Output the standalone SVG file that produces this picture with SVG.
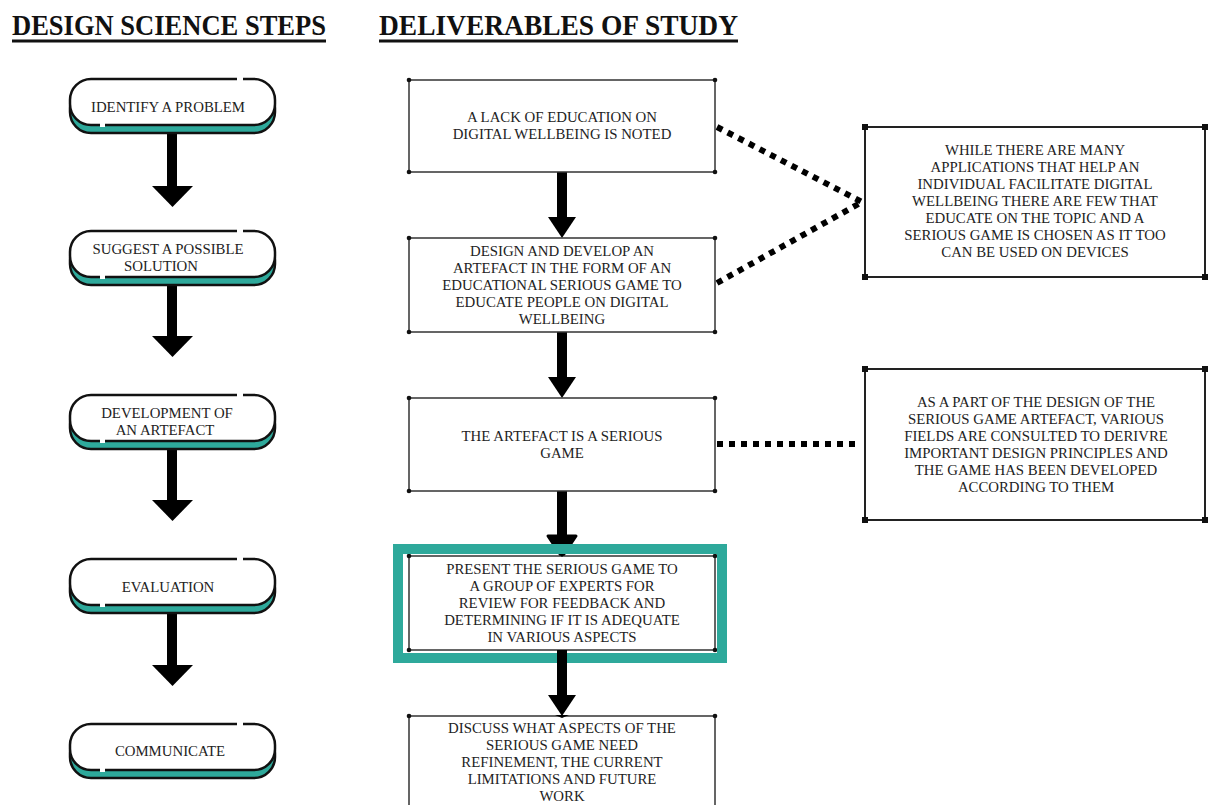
<svg xmlns="http://www.w3.org/2000/svg" width="1208" height="805" viewBox="0 0 1208 805">
  <defs>
    <style>
      .title { font-family: "Liberation Serif", "DejaVu Serif", serif; font-weight: bold; font-size: 29px; fill: #111; }
      .uline { stroke: #111; stroke-width: 3; }
      .lbl { font-family: "Liberation Serif", "DejaVu Serif", serif; font-size: 14.8px; fill: #222; text-anchor: middle; }
      .pill-back { fill: #2ea99b; stroke: #111; stroke-width: 2.5; }
      .pill-front { fill: #fff; stroke: #111; stroke-width: 2.5; }
      .gap { fill: #fff; }
      .box { fill: #fff; stroke: #333; stroke-width: 1.5; }
      .sidebox { fill: #fff; stroke: #222; stroke-width: 2; }
      .dot { fill: #111; }
      .shaft { stroke: #000; stroke-width: 10; }
      .head { fill: #000; }
      .dotted { stroke: #000; stroke-width: 6; stroke-dasharray: 6 6; fill: none; }
      .hl { fill: none; stroke: #2ea99b; stroke-width: 10; }
    </style>
    <symbol id="pill" overflow="visible">
      <rect class="pill-back" x="70" y="8" width="205" height="46" rx="21"/>
      <rect class="pill-front" x="70" y="0" width="205" height="46" rx="21"/>
      <rect class="gap" x="237" y="-3" width="6" height="5"/>
      <rect class="gap" x="100" y="44" width="5" height="4"/>
    </symbol>
  </defs>

  <!-- column headings -->
  <g id="heading-steps">
    <text class="title" x="12" y="35" textLength="314" lengthAdjust="spacingAndGlyphs">DESIGN SCIENCE STEPS</text>
    <line class="uline" x1="12" y1="41" x2="326" y2="41"/>
  </g>
  <g id="heading-deliverables">
    <text class="title" x="379" y="35" textLength="359" lengthAdjust="spacingAndGlyphs">DELIVERABLES OF STUDY</text>
    <line class="uline" x1="379" y1="41" x2="738" y2="41"/>
  </g>

  <!-- connectors -->
  <g id="connectors">
    <!-- step arrows -->
    <line class="shaft" x1="172" y1="133" x2="172" y2="188"/>
    <polygon class="head" points="152,186 193,186 172.5,207"/>
    <line class="shaft" x1="172" y1="285" x2="172" y2="338"/>
    <polygon class="head" points="152,336 193,336 172.5,357"/>
    <line class="shaft" x1="172" y1="449" x2="172" y2="502"/>
    <polygon class="head" points="152,500 193,500 172.5,521"/>
    <line class="shaft" x1="172" y1="613" x2="172" y2="667"/>
    <polygon class="head" points="152,665 193,665 172.5,686"/>

    <!-- deliverable arrows -->
    <line class="shaft" x1="562" y1="172" x2="562" y2="219"/>
    <polygon class="head" points="548,217 576,217 562,238"/>
    <line class="shaft" x1="562" y1="332" x2="562" y2="379"/>
    <polygon class="head" points="548,377 576,377 562,398"/>
    <line class="shaft" x1="562" y1="491" x2="562" y2="537"/>
    <polygon class="head" points="548,536 576,536 562,557" stroke="#000" stroke-width="3" stroke-linejoin="round"/>

    <!-- dotted links to side notes -->
    <line class="dotted" x1="717" y1="127" x2="862" y2="202"/>
    <line class="dotted" x1="717" y1="283" x2="862" y2="202"/>
    <line class="dotted" x1="717" y1="444" x2="860" y2="444"/>
  </g>

  <!-- design science steps -->
  <g id="step-identify">
    <use href="#pill" y="79"/>
    <text class="lbl" x="168" y="112">IDENTIFY A PROBLEM</text>
  </g>
  <g id="step-suggest">
    <use href="#pill" y="231"/>
    <text class="lbl" x="168" y="254">SUGGEST A POSSIBLE</text>
    <text class="lbl" x="161" y="271">SOLUTION</text>
  </g>
  <g id="step-develop">
    <use href="#pill" y="395"/>
    <text class="lbl" x="167" y="418">DEVELOPMENT OF</text>
    <text class="lbl" x="165" y="435">AN ARTEFACT</text>
  </g>
  <g id="step-evaluate">
    <use href="#pill" y="559"/>
    <text class="lbl" x="168" y="592">EVALUATION</text>
  </g>
  <g id="step-communicate">
    <use href="#pill" y="724"/>
    <text class="lbl" x="170" y="756">COMMUNICATE</text>
  </g>

  <!-- deliverables -->
  <g id="deliv-problem">
    <rect class="box" x="409" y="80" width="306" height="92"/>
    <circle class="dot" cx="409" cy="80" r="2.3"/><circle class="dot" cx="715" cy="80" r="2.3"/>
    <circle class="dot" cx="409" cy="172" r="2.3"/><circle class="dot" cx="715" cy="172" r="2.3"/>
    <text class="lbl" x="562" y="122">A LACK OF EDUCATION ON</text>
    <text class="lbl" x="562" y="139">DIGITAL WELLBEING IS NOTED</text>
  </g>
  <g id="deliv-design">
    <rect class="box" x="409" y="238" width="306" height="94"/>
    <circle class="dot" cx="409" cy="238" r="2.3"/><circle class="dot" cx="715" cy="238" r="2.3"/>
    <circle class="dot" cx="409" cy="332" r="2.3"/><circle class="dot" cx="715" cy="332" r="2.3"/>
    <text class="lbl" x="562" y="256">DESIGN AND DEVELOP AN</text>
    <text class="lbl" x="562" y="273">ARTEFACT IN THE FORM OF AN</text>
    <text class="lbl" x="562" y="290">EDUCATIONAL SERIOUS GAME TO</text>
    <text class="lbl" x="562" y="307">EDUCATE PEOPLE ON DIGITAL</text>
    <text class="lbl" x="562" y="324">WELLBEING</text>
  </g>
  <g id="deliv-artefact">
    <rect class="box" x="409" y="398" width="306" height="93"/>
    <circle class="dot" cx="409" cy="398" r="2.3"/><circle class="dot" cx="715" cy="398" r="2.3"/>
    <circle class="dot" cx="409" cy="491" r="2.3"/><circle class="dot" cx="715" cy="491" r="2.3"/>
    <text class="lbl" x="562" y="441">THE ARTEFACT IS A SERIOUS</text>
    <text class="lbl" x="562" y="458">GAME</text>
  </g>
  <g id="deliv-present">
    <rect class="box" x="409" y="556" width="306" height="94"/>
    <circle class="dot" cx="409" cy="556" r="2.3"/><circle class="dot" cx="715" cy="556" r="2.3"/>
    <circle class="dot" cx="409" cy="650" r="2.3"/><circle class="dot" cx="715" cy="650" r="2.3"/>
    <polygon class="head" points="557,552 567,552 562,557"/>
    <rect class="hl" x="398" y="549" width="324" height="109"/>
    <text class="lbl" x="562" y="574">PRESENT THE SERIOUS GAME TO</text>
    <text class="lbl" x="562" y="591">A GROUP OF EXPERTS FOR</text>
    <text class="lbl" x="562" y="608">REVIEW FOR FEEDBACK AND</text>
    <text class="lbl" x="562" y="625">DETERMINING IF IT IS ADEQUATE</text>
    <text class="lbl" x="562" y="642">IN VARIOUS ASPECTS</text>
  </g>
  <g id="link-present-discuss">
    <line class="shaft" x1="562" y1="650" x2="562" y2="697"/>
    <polygon class="head" points="548,695 576,695 562,716"/>
  </g>
  <g id="deliv-discuss">
    <rect class="box" x="409" y="716" width="306" height="100"/>
    <circle class="dot" cx="409" cy="716" r="2.3"/><circle class="dot" cx="715" cy="716" r="2.3"/>
    <polygon class="head" points="555,715 569,715 562,718"/>
    <text class="lbl" x="562" y="733">DISCUSS WHAT ASPECTS OF THE</text>
    <text class="lbl" x="562" y="750">SERIOUS GAME NEED</text>
    <text class="lbl" x="562" y="767">REFINEMENT, THE CURRENT</text>
    <text class="lbl" x="562" y="784">LIMITATIONS AND FUTURE</text>
    <text class="lbl" x="562" y="801">WORK</text>
  </g>

  <!-- side notes -->
  <g id="note-applications">
    <rect class="sidebox" x="865" y="127" width="340" height="150"/>
    <rect class="dot" x="862" y="124" width="6" height="6"/><rect class="dot" x="1202" y="124" width="6" height="6"/>
    <rect class="dot" x="862" y="274" width="6" height="6"/><rect class="dot" x="1202" y="274" width="6" height="6"/>
    <text class="lbl" x="1035" y="155">WHILE THERE ARE MANY</text>
    <text class="lbl" x="1035" y="172">APPLICATIONS THAT HELP AN</text>
    <text class="lbl" x="1035" y="189">INDIVIDUAL FACILITATE DIGITAL</text>
    <text class="lbl" x="1035" y="206">WELLBEING THERE ARE FEW THAT</text>
    <text class="lbl" x="1035" y="223">EDUCATE ON THE TOPIC AND A</text>
    <text class="lbl" x="1035" y="240">SERIOUS GAME IS CHOSEN AS IT TOO</text>
    <text class="lbl" x="1035" y="257">CAN BE USED ON DEVICES</text>
  </g>
  <g id="note-design-principles">
    <rect class="sidebox" x="865" y="369" width="340" height="151"/>
    <rect class="dot" x="862" y="366" width="6" height="6"/><rect class="dot" x="1202" y="366" width="6" height="6"/>
    <rect class="dot" x="862" y="517" width="6" height="6"/><rect class="dot" x="1202" y="517" width="6" height="6"/>
    <text class="lbl" x="1036" y="407">AS A PART OF THE DESIGN OF THE</text>
    <text class="lbl" x="1036" y="424">SERIOUS GAME ARTEFACT, VARIOUS</text>
    <text class="lbl" x="1036" y="441">FIELDS ARE CONSULTED TO DERIVRE</text>
    <text class="lbl" x="1036" y="458">IMPORTANT DESIGN PRINCIPLES AND</text>
    <text class="lbl" x="1036" y="475">THE GAME HAS BEEN DEVELOPED</text>
    <text class="lbl" x="1036" y="492">ACCORDING TO THEM</text>
  </g>
</svg>
